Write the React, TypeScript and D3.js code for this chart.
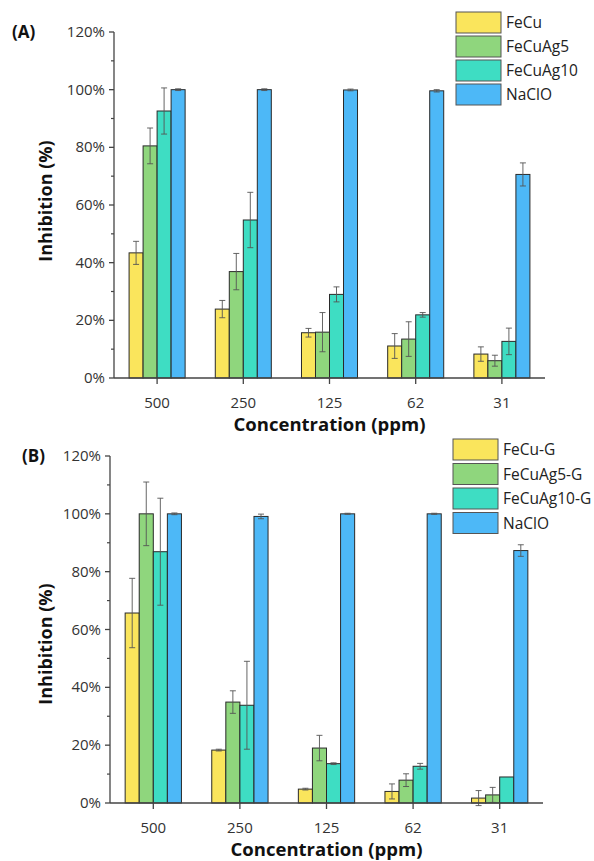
import React from "react";
import * as d3 from "d3";

const categories = ["500", "250", "125", "62", "31"];
const yTicks = [0, 20, 40, 60, 80, 100, 120];
const seriesColors = ["#FAE55C", "#8FD67D", "#3EDDC3", "#4DB8F7"];

const seriesA = ["FeCu", "FeCuAg5", "FeCuAg10", "NaClO"];
const valuesA = [
  [43.4, 23.9, 15.7, 11.1, 8.3],
  [80.5, 36.9, 15.9, 13.5, 6.0],
  [92.6, 54.8, 29.0, 21.9, 12.7],
  [100, 100, 99.9, 99.6, 70.6],
];
const errorsA = [
  [4.0, 3.0, 1.5, 4.3, 2.5],
  [6.2, 6.3, 6.8, 6.0, 1.9],
  [8.0, 9.6, 2.6, 0.8, 4.6],
  [0.3, 0.3, 0.3, 0.4, 4.0],
];

const seriesB = ["FeCu-G", "FeCuAg5-G", "FeCuAg10-G", "NaClO"];
const valuesB = [
  [65.7, 18.3, 4.8, 4.0, 1.7],
  [100, 34.9, 19.0, 7.9, 2.8],
  [86.9, 33.8, 13.6, 12.7, 9.0],
  [100, 99.1, 100, 100, 87.3],
];
const errorsB = [
  [12.0, 0.3, 0.3, 2.6, 2.6],
  [11.0, 3.9, 4.4, 2.2, 2.6],
  [18.5, 15.2, 0.3, 1.0, 0.0],
  [0.3, 0.8, 0.2, 0.2, 2.0],
];

const FONT = "'Open Sans', 'DejaVu Sans', sans-serif";
const AXIS = "#444";

type PanelProps = {
  label: string;
  labelX: number;
  labelY: number;
  x0: number;
  x1: number;
  yBase: number;
  yTop: number;
  yLabelCenter: number;
  series: string[];
  values: number[][];
  errors: number[][];
  legendX: number;
  legendY: number;
  legendStep: number;
};

function Panel(p: PanelProps) {
  const x = d3.scaleBand<string>().domain(categories).range([p.x0, p.x1]).paddingInner(0).paddingOuter(0);
  const groupW = x.bandwidth() * 0.65;
  const sub = d3
    .scaleBand<number>()
    .domain(d3.range(p.series.length))
    .range([-groupW / 2, groupW / 2]);
  const y = d3.scaleLinear().domain([0, 120]).range([p.yBase, p.yTop]);
  const minor = d3.range(10, 120, 20);
  return (
    <g>
      <text x={p.labelX} y={p.labelY} fontFamily={FONT} fontWeight="bold" fontSize={17} fill="#111">
        {p.label}
      </text>
      {p.series.map((s, si) =>
        categories.map((c, ci) => {
          const cx = (x(c) as number) + x.bandwidth() / 2;
          const bx = cx + (sub(si) as number);
          const v = p.values[si][ci];
          return (
            <rect
              key={s + c}
              x={bx}
              y={y(v)}
              width={sub.bandwidth()}
              height={p.yBase - y(v)}
              fill={seriesColors[si]}
              stroke="#2a2a2a"
              strokeWidth={1}
            />
          );
        })
      )}
      {p.series.map((s, si) =>
        categories.map((c, ci) => {
          const cx = (x(c) as number) + x.bandwidth() / 2 + (sub(si) as number) + sub.bandwidth() / 2;
          const v = p.values[si][ci];
          const e = p.errors[si][ci];
          if (e <= 0) return null;
          const yt = y(v + e);
          const yb = y(v - e);
          return (
            <g key={"e" + s + c} stroke="#555" strokeWidth={0.9}>
              <line x1={cx} x2={cx} y1={yt} y2={yb} />
              <line x1={cx - 3} x2={cx + 3} y1={yt} y2={yt} />
              <line x1={cx - 3} x2={cx + 3} y1={yb} y2={yb} />
            </g>
          );
        })
      )}
      <line x1={p.x0} x2={p.x0} y1={y(120)} y2={p.yBase} stroke={AXIS} strokeWidth={1.3} />
      <line x1={p.x0} x2={p.x1} y1={p.yBase} y2={p.yBase} stroke={AXIS} strokeWidth={1.3} />
      {yTicks.map((t) => (
        <g key={"yt" + t}>
          <line x1={p.x0 - 5} x2={p.x0} y1={y(t)} y2={y(t)} stroke={AXIS} strokeWidth={1.3} />
          <text
            x={p.x0 - 9}
            y={y(t) + 5}
            textAnchor="end"
            fontFamily={FONT}
            fontSize={15}
            fill="#333"
          >
            {t}%
          </text>
        </g>
      ))}
      {minor.map((t) => (
        <line key={"ym" + t} x1={p.x0 - 3} x2={p.x0} y1={y(t)} y2={y(t)} stroke={AXIS} strokeWidth={1.2} />
      ))}
      {categories.map((c) => {
        const cx = (x(c) as number) + x.bandwidth() / 2;
        return (
          <g key={"xt" + c}>
            <line x1={cx} x2={cx} y1={p.yBase} y2={p.yBase + 6} stroke={AXIS} strokeWidth={1.3} />
            <text x={cx} y={p.yBase + 30} textAnchor="middle" fontFamily={FONT} fontSize={15} fill="#333">
              {c}
            </text>
          </g>
        );
      })}
      <text
        x={(p.x0 + p.x1) / 2}
        y={p.yBase + 53}
        textAnchor="middle"
        fontFamily={FONT}
        fontWeight="bold"
        fontSize={18.5}
        fill="#111"
      >
        Concentration (ppm)
      </text>
      <text
        transform={`translate(${52},${p.yLabelCenter}) rotate(-90)`}
        textAnchor="middle"
        fontFamily={FONT}
        fontWeight="bold"
        fontSize={18}
        fill="#111"
      >
        Inhibition (%)
      </text>
      {p.series.map((s, si) => (
        <g key={"lg" + s}>
          <rect
            x={p.legendX}
            y={p.legendY + si * p.legendStep}
            width={45}
            height={21}
            fill={seriesColors[si]}
            stroke="#555"
            strokeWidth={1}
          />
          <text
            x={p.legendX + 50}
            y={p.legendY + si * p.legendStep + 16}
            fontFamily={FONT}
            fontSize={15.5}
            fill="#222"
          >
            {s}
          </text>
        </g>
      ))}
    </g>
  );
}

export default function App() {
  return (
    <svg
      width={594}
      height={861}
      style={{ position: "absolute", left: 0, top: 0, background: "#fff" }}
    >
      <rect width={594} height={861} fill="#fff" />
      <Panel
        label="(A)"
        labelX={12}
        labelY={38}
        x0={114}
        x1={545}
        yBase={378}
        yTop={32}
        yLabelCenter={201}
        series={seriesA}
        values={valuesA}
        errors={errorsA}
        legendX={456}
        legendY={12}
        legendStep={24}
      />
      <Panel
        label="(B)"
        labelX={22}
        labelY={462}
        x0={110}
        x1={543}
        yBase={803}
        yTop={456}
        yLabelCenter={644}
        series={seriesB}
        values={valuesB}
        errors={errorsB}
        legendX={453}
        legendY={439}
        legendStep={24.5}
      />
    </svg>
  );
}
